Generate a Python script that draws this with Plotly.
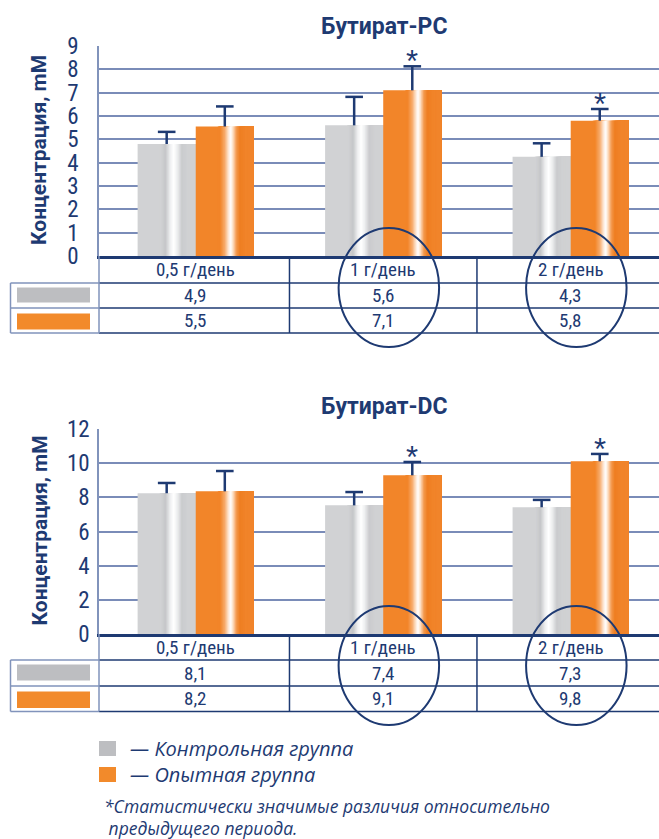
import plotly.graph_objects as go

# ---------------- data ----------------
doses = ["0,5 г/день", "1 г/день", "2 г/день"]
series_names = ["Контрольная группа", "Опытная группа"]

# Бутират-PC (bar heights as drawn, upper error, table values)
pc_control = [4.8, 5.6, 4.25]
pc_test = [5.55, 7.1, 5.8]
pc_control_err = [0.52, 1.22, 0.58]
pc_test_err = [0.86, 1.03, 0.5]
pc_control_tbl = ["4,9", "5,6", "4,3"]
pc_test_tbl = ["5,5", "7,1", "5,8"]
pc_sig = [False, True, True]

# Бутират-DC
dc_control = [8.24, 7.53, 7.42]
dc_test = [8.35, 9.29, 10.11]
dc_control_err = [0.6, 0.78, 0.43]
dc_test_err = [1.19, 0.78, 0.43]
dc_control_tbl = ["8,1", "7,4", "7,3"]
dc_test_tbl = ["8,2", "9,1", "9,8"]
dc_sig = [False, True, True]

titles = ["Бутират-PC", "Бутират-DC"]
y_title = "Концентрация, mM"
y_ranges = [[0, 9], [0, 12]]
y_dticks = [1, 2]
highlight = [1, 2]  # circled dose columns

legend_texts = ["— Контрольная группа", "— Опытная группа"]
footnote_lines = ["*Статистически значимые различия относительно", " предыдущего периода."]

# ---------------- style ----------------
W, H = 659, 839
NAVY = "#1e3a72"
GRID = "#7a8cb8"
LIGHT = "#8193bb"
GRAY_SW = "#bdbec1"
ORANGE_SW = "#f28a2b"
NARROW = "Liberation Sans Narrow, Roboto Condensed, Roboto, Liberation Sans, Arial, sans-serif"
BOLD = "Roboto, Arial, sans-serif"
ITAL = "Open Sans, Roboto, sans-serif"

def py(y):
    return 1 - y / H

def px(x):
    return x / W

gray_prof = [(0, "#d1d2d4"), (0.40, "#d1d2d4"), (0.48, "#c5c6c9"), (0.56, "#eeeff0"),
             (0.62, "#ffffff"), (0.68, "#eeeff0"), (0.76, "#cacbce"), (0.86, "#d0d1d3"),
             (1, "#d1d2d4")]
orange_prof = [(0, "#f28529"), (0.42, "#f28529"), (0.50, "#f7ab6c"), (0.56, "#fde4ce"),
               (0.60, "#ffffff"), (0.64, "#fde0c6"), (0.70, "#f4994d"), (0.76, "#ee7e21"),
               (0.86, "#f1842a"), (1, "#f28529")]

def hex2rgb(h):
    h = h.lstrip("#")
    return [int(h[i:i + 2], 16) for i in (0, 2, 4)]

def prof_color(prof, f):
    for (f0, c0), (f1, c1) in zip(prof[:-1], prof[1:]):
        if f0 <= f <= f1:
            t = 0 if f1 == f0 else (f - f0) / (f1 - f0)
            a, b = hex2rgb(c0), hex2rgb(c1)
            return "rgb(%d,%d,%d)" % tuple(round(a[i] + (b[i] - a[i]) * t) for i in range(3))
    return prof[-1][1]

BAR_W = 0.31
offsets = [-0.31, 0.0]
profiles = [gray_prof, orange_prof]
CAP = 0.047

charts = [
    dict(vals=[pc_control, pc_test], errs=[pc_control_err, pc_test_err],
         tbl=[pc_control_tbl, pc_test_tbl], sig=pc_sig,
         dom=(256, 46), title_y=27, rows=(256, 283, 308, 333), ell=(228, 347)),
    dict(vals=[dc_control, dc_test], errs=[dc_control_err, dc_test_err],
         tbl=[dc_control_tbl, dc_test_tbl], sig=dc_sig,
         dom=(634, 429), title_y=407, rows=(634, 660, 686, 711.5), ell=(606, 725)),
]

fig = go.Figure()
shapes = []
annots = []
xs = list(range(len(doses)))

def txt(x, y, text, size, family, xref="paper", yref="paper", xanchor="center", yanchor="middle", **kw):
    d = dict(x=x, y=y, xref=xref, yref=yref, text=text, showarrow=False,
             xanchor=xanchor, yanchor=yanchor, font=dict(size=size, color=NAVY, family=family))
    d.update(kw)
    annots.append(d)

for ci, ch in enumerate(charts):
    xa = "x" if ci == 0 else "x2"
    ya = "y" if ci == 0 else "y2"
    # bars with shaded highlight (stacked slices of the same value)
    for si in range(2):
        vals = ch["vals"][si]
        prof = profiles[si]
        off = offsets[si]
        fig.add_trace(go.Bar(x=xs, y=vals, offset=off, width=BAR_W, xaxis=xa, yaxis=ya,
                             name=series_names[si],
                             marker=dict(color=prof_color(prof, 0), line=dict(width=0)),
                             hoverinfo="skip", showlegend=False))
        n = 44
        f0, f1 = 0.38, 0.92
        for k in range(n + 1):
            f = f0 + (f1 - f0) * k / n
            fig.add_trace(go.Bar(x=xs, y=vals, offset=off + f * BAR_W, width=(1 - f) * BAR_W,
                                 xaxis=xa, yaxis=ya,
                                 marker=dict(color=prof_color(prof, min(f + (f1 - f0) / n / 2, 1)),
                                             line=dict(width=0)),
                                 hoverinfo="skip", showlegend=False))
    # error bars (upper only)
    ex, ey = [], []
    for si in range(2):
        for i, (v, e) in enumerate(zip(ch["vals"][si], ch["errs"][si])):
            cx = i + offsets[si] + BAR_W / 2
            ex += [cx, cx, None, cx - CAP, cx + CAP, None]
            ey += [v, v + e, None, v + e, v + e, None]
    fig.add_trace(go.Scatter(x=ex, y=ey, mode="lines", xaxis=xa, yaxis=ya,
                             line=dict(color=NAVY, width=2.5), hoverinfo="skip", showlegend=False))
    # significance stars
    for i, s in enumerate(ch["sig"]):
        if s:
            v = ch["vals"][1][i] + ch["errs"][1][i]
            txt(i + offsets[1] + BAR_W / 2, v, "*", 31, "Liberation Sans, Arial",
                xref=xa, yref=ya, yanchor="bottom", yshift=-15)
    # title
    txt(px(384), py(ch["title_y"]), "<b>%s</b>" % titles[ci], 23, BOLD)
    # y title
    d0, d1 = ch["dom"]
    txt(px(39), py((d0 + d1) / 2 - 1), "<b>%s</b>" % y_title, 21, BOLD, textangle=-90)
    # table
    r0, r1, r2, r3 = ch["rows"]
    for yy in (r1, r2, r3):
        shapes.append(dict(type="line", xref="paper", yref="paper", x0=px(99), x1=1,
                           y0=py(yy), y1=py(yy), line=dict(color=NAVY, width=1.5)))
        shapes.append(dict(type="line", xref="paper", yref="paper", x0=px(10.5), x1=px(99),
                           y0=py(yy), y1=py(yy), line=dict(color=LIGHT, width=1.5)))
    shapes.append(dict(type="line", xref="paper", yref="paper", x0=px(10.5), x1=px(10.5),
                       y0=py(r1), y1=py(r3), line=dict(color=LIGHT, width=1.5)))
    shapes.append(dict(type="line", xref="paper", yref="paper", x0=px(99), x1=px(99),
                       y0=py(r0), y1=py(r3), line=dict(color=LIGHT, width=1.5)))
    for b in (0.5, 1.5):
        shapes.append(dict(type="line", xref=xa, yref="paper", x0=b, x1=b,
                           y0=py(r0), y1=py(r3), line=dict(color=NAVY, width=1.5)))
    # legend swatches in table
    for (ya0, ya1), col in (((r1 + 4.5, r2 - 5.5), GRAY_SW), ((r2 + 5.5, r3 - 3.5), ORANGE_SW)):
        shapes.append(dict(type="rect", xref="paper", yref="paper", x0=px(17), x1=px(90),
                           y0=py(ya0), y1=py(ya1), fillcolor=col, line=dict(width=0)))
    for i in xs:
        txt(i, py((r0 + r1) / 2), doses[i], 19, NARROW, xref=xa)
        txt(i, py((r1 + r2) / 2), ch["tbl"][0][i], 19, NARROW, xref=xa)
        txt(i, py((r2 + r3) / 2), ch["tbl"][1][i], 19, NARROW, xref=xa)
    # circles
    e0, e1 = ch["ell"]
    for i in highlight:
        shapes.append(dict(type="circle", xref=xa, yref="paper", x0=i + 0.03 - 0.268,
                           x1=i + 0.03 + 0.268, y0=py(e1), y1=py(e0),
                           line=dict(color=NAVY, width=2)))

# bottom legend
for k, (col, yc) in enumerate(((GRAY_SW, 748.5), (ORANGE_SW, 774.5))):
    shapes.append(dict(type="rect", xref="paper", yref="paper", x0=px(99), x1=px(116),
                       y0=py(yc + 7.5), y1=py(yc - 7.5), fillcolor=col, line=dict(width=0)))
    txt(px(128), py(yc), "<i>%s</i>" % legend_texts[k], 20, ITAL, xanchor="left")
txt(px(102), py(806), "<i>%s</i>" % footnote_lines[0], 17.5, ITAL, xanchor="left")
txt(px(102), py(828), "<i>%s</i>" % footnote_lines[1], 17.5, ITAL, xanchor="left")

axis_common = dict(range=[-0.516, 2.471], showgrid=False, zeroline=False, showticklabels=False,
                   showline=True, linecolor=NAVY, linewidth=2.5, fixedrange=True)
fig.update_layout(
    width=W, height=H, template="none", barmode="overlay",
    margin=dict(l=0, r=0, t=0, b=0), paper_bgcolor="white", plot_bgcolor="white",
    showlegend=False, shapes=shapes, annotations=annots,
    xaxis=dict(domain=[px(99), 1], anchor="y", **axis_common),
    xaxis2=dict(domain=[px(99), 1], anchor="y2", **axis_common),
    yaxis=dict(domain=[py(charts[0]["dom"][0]), py(charts[0]["dom"][1])], anchor="x",
               range=y_ranges[0], dtick=y_dticks[0], showgrid=True, gridcolor=GRID, gridwidth=2,
               zeroline=False, showline=True, linecolor=LIGHT, linewidth=1.5, ticks="",
               ticklabelstandoff=14, tickfont=dict(size=23, color=NAVY, family=NARROW)),
    yaxis2=dict(domain=[py(charts[1]["dom"][0]), py(charts[1]["dom"][1])], anchor="x2",
                range=y_ranges[1], dtick=y_dticks[1], showgrid=True, gridcolor=GRID, gridwidth=2,
                zeroline=False, showline=True, linecolor=LIGHT, linewidth=1.5, ticks="",
                ticklabelstandoff=3, tickfont=dict(size=23, color=NAVY, family=NARROW)),
)

fig.write_html("out.html")
